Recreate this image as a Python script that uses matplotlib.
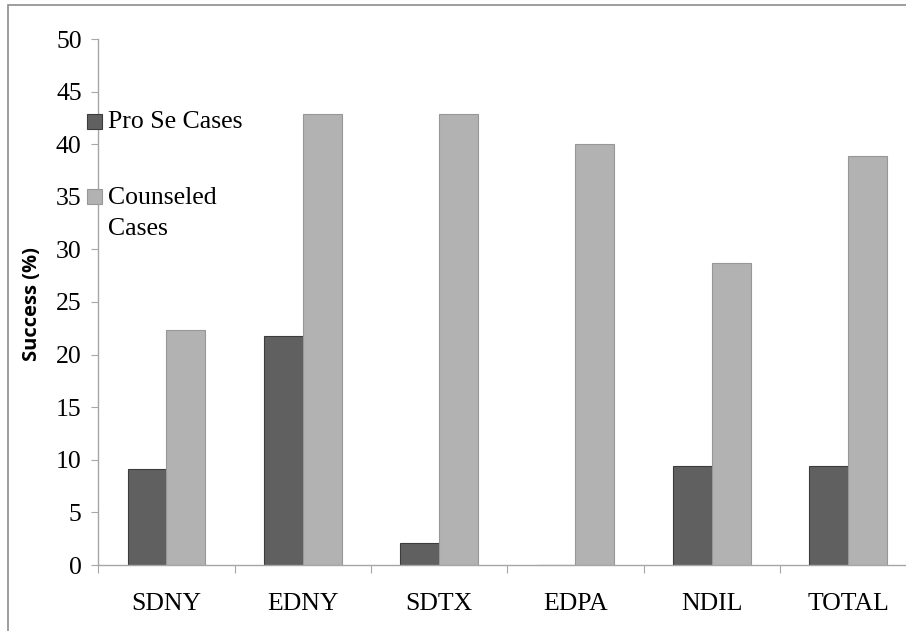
import matplotlib
matplotlib.use("Agg")
import matplotlib.pyplot as plt
from matplotlib.patches import Rectangle
import numpy as np

# Data
districts = ["SDNY", "EDNY", "SDTX", "EDPA", "NDIL", "TOTAL"]
pro_se = [9.1, 21.8, 2.1, 0.0, 9.4, 9.4]
counseled = [22.3, 42.9, 42.9, 40.0, 28.7, 38.9]
series_labels = ["Pro Se Cases", "Counseled", "Cases"]
y_ticks = [0, 5, 10, 15, 20, 25, 30, 35, 40, 45, 50]

plt.rcParams["font.family"] = ["Liberation Serif", "DejaVu Serif"]

# Styling
W, H = 906, 631
DARK, DARK_EDGE = "#606060", "#3c3c3c"
LIGHT, LIGHT_EDGE = "#b2b2b2", "#979797"
AXIS_GREY = "#a6a6a6"
SERIF = ["Liberation Serif", "DejaVu Serif"]
FS = 18.5


def fx(px):
    return px / W


def fy(py):
    return 1 - py / H


fig = plt.figure(figsize=(W / 100, H / 100), dpi=100)
fig.patch.set_facecolor("white")

# Plot area (right side runs past the figure edge)
left, right, top, bottom = 98.3, 916.3, 39.0, 565.0
ax = fig.add_axes([fx(left), fy(bottom), fx(right - left), (bottom - top) / H])

x = np.arange(len(districts))
bw = 1 / 3.5
ax.bar(x - bw / 2, pro_se, width=bw, color=DARK, edgecolor=DARK_EDGE, linewidth=0.8)
ax.bar(x + bw / 2, counseled, width=bw, color=LIGHT, edgecolor=LIGHT_EDGE, linewidth=0.8)

ax.set_xlim(-0.5, len(districts) - 0.5)
ax.set_ylim(0, 50)

for side in ("top", "right"):
    ax.spines[side].set_visible(False)
for side in ("left", "bottom"):
    ax.spines[side].set_color(AXIS_GREY)
    ax.spines[side].set_linewidth(1.0)

ax.set_yticks(y_ticks)
ax.set_yticklabels([str(t) for t in y_ticks], family=SERIF, fontsize=FS)
ax.tick_params(axis="y", direction="out", length=5.0, width=0.8, color=AXIS_GREY, pad=7)

ax.set_xticks(x)
ax.set_xticklabels(districts, family=SERIF, fontsize=FS)
ax.tick_params(axis="x", which="major", length=0, pad=20.5)
ax.set_xticks(np.arange(len(districts) + 1) - 0.5, minor=True)
ax.tick_params(axis="x", which="minor", direction="out", length=6, width=0.8, color=AXIS_GREY)

fig.text(fx(32), fy(304), "Success (%)", rotation=90, ha="center", va="center",
         family=["Open Sans", "DejaVu Sans"], fontweight="bold", fontsize=14.5)

# Legend keys and labels
fig.add_artist(Rectangle((fx(87), fy(129)), fx(14.7), 15 / H, transform=fig.transFigure,
                         facecolor=DARK, edgecolor=DARK_EDGE, linewidth=0.8, zorder=5))
fig.add_artist(Rectangle((fx(87), fy(204)), fx(14.7), 15 / H, transform=fig.transFigure,
                         facecolor=LIGHT, edgecolor=LIGHT_EDGE, linewidth=0.8, zorder=5))
fig.text(fx(108), fy(128.5), series_labels[0], ha="left", va="baseline",
         family=SERIF, fontsize=FS, zorder=5)
fig.text(fx(108), fy(204), series_labels[1], ha="left", va="baseline",
         family=SERIF, fontsize=FS, zorder=5)
fig.text(fx(108), fy(235), series_labels[2], ha="left", va="baseline",
         family=SERIF, fontsize=FS, zorder=5)

# Chart frame (only top and left edges fall inside the image)
fig.add_artist(Rectangle((fx(8), fy(H + 20)), fx(W + 20), (H + 20 - 5) / H,
                         transform=fig.transFigure, facecolor="none",
                         edgecolor="#8c8c8c", linewidth=1.2, zorder=0))

fig.savefig("out.png", dpi=100)
